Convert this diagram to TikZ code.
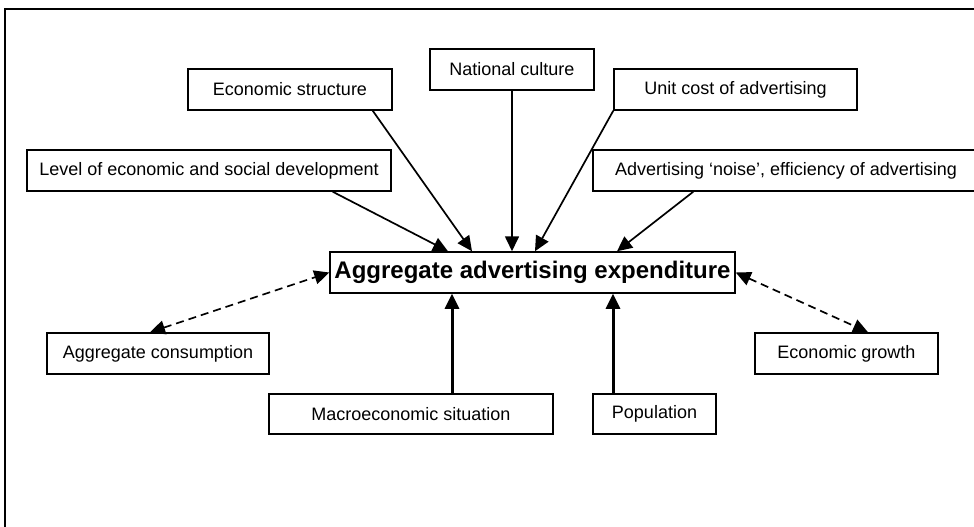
\documentclass[tikz,border=0pt]{standalone}
\usepackage{fontspec}
\setmainfont{Liberation Sans}
\usepackage{tikz}
\usetikzlibrary{arrows.meta, positioning}
\tikzstyle{factor} = [rectangle, minimum height=41pt, inner sep=0pt, text centered, draw=black, line width=1.5pt, font=\fontsize{18}{21}\selectfont]
\tikzstyle{central} = [rectangle, minimum height=41pt, inner sep=0pt, text centered, draw=black, line width=1.5pt, font=\fontsize{24}{28}\selectfont\bfseries]
\tikzstyle{arrow} = [line width=1.7pt,-{Triangle[length=15pt,width=14pt]}]
\tikzstyle{uparrow} = [line width=3pt,-{Triangle[length=15pt,width=14pt]}]
\tikzstyle{dasharrow} = [line width=1.7pt, dash pattern=on 8pt off 5pt, {Triangle[length=15pt,width=14pt]}-{Triangle[length=15pt,width=14pt]}]

\begin{document}
\begin{tikzpicture}[x=1pt, y=-1pt]
				\useasboundingbox (0,0) rectangle (974,527);
				
				% Frame
				\draw [line width=2.5pt] (5,9) rectangle (995,545);
				
				% Central node
				\node (aggr) [central, minimum width=405pt] at (532.5,272.5) {Aggregate advertising expenditure};
				
				% Nodes above
				\node (ecstruct) [factor, minimum width=204pt] at (290,89.5) {Economic structure};
				\node (natcult) [factor, minimum width=164pt] at (512,69.5) {National culture};
				\node (unitcost) [factor, minimum width=243pt] at (735.5,89.5) {Unit cost of advertising};
				\node (level) [factor, minimum width=364pt] at (209,170.5) {Level of economic and social development};
				\node (noise) [factor, minimum width=386pt] at (786,170.5) {Advertising `noise', efficiency of advertising};
				
				% Nodes at the sides and below
				\node (aggcons) [factor, minimum width=222pt] at (158,353.5) {Aggregate consumption};
				\node (ecgrowth) [factor, minimum width=183pt] at (846.5,353.5) {Economic growth};
				\node (macro) [factor, minimum width=284pt, minimum height=40pt] at (411,414) {Macroeconomic situation};
				\node (popul) [factor, minimum width=123pt, minimum height=40pt] at (654.5,414) {Population};
				
				% Arrows from above
				\draw [arrow] ([xshift=-59pt]level.south east) -- ([xshift=-84.5pt]aggr.north);
				\draw [arrow] ([xshift=-20pt]ecstruct.south east) -- ([xshift=-60.5pt]aggr.north);
				\draw [arrow] (natcult.south) -- (natcult.south |- aggr.north);
				\draw [arrow] (unitcost.south west) -- ([xshift=2.5pt]aggr.north);
				\draw [arrow] ([xshift=101pt]noise.south west) -- ([xshift=84.5pt]aggr.north);
				
				% Two-way dashed arrows
				\draw [dasharrow] ([xshift=-8pt]aggcons.north) -- (aggr.west);
				\draw [dasharrow] (aggr.east) -- ([xshift=21.5pt]ecgrowth.north);
				
				% Arrows from below
				\draw [uparrow] ([xshift=41pt]macro.north) -- ([xshift=41pt]macro.north |- aggr.south);
				\draw [uparrow] ([xshift=-41.5pt]popul.north) -- ([xshift=-41.5pt]popul.north |- aggr.south);
				
\end{tikzpicture}
\end{document}
